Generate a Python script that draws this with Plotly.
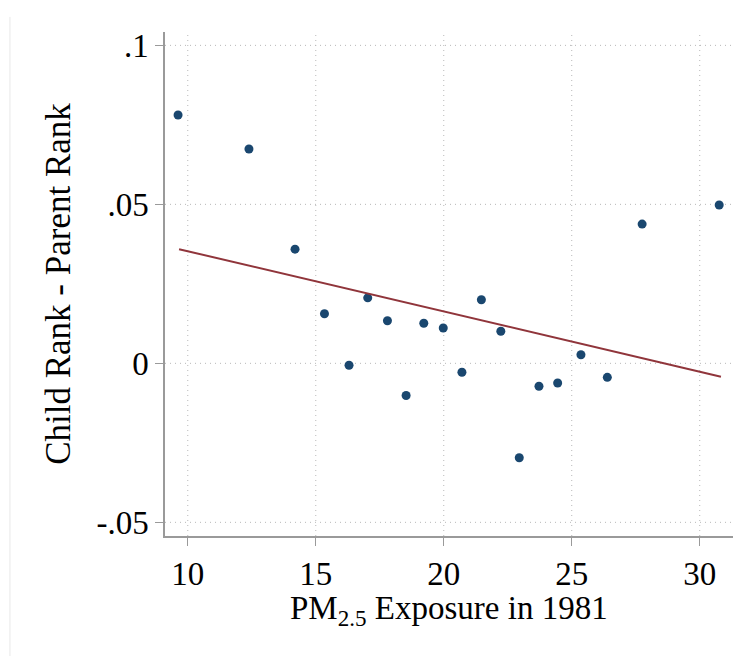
import plotly.graph_objects as go

# binned scatter: PM2.5 exposure vs. child - parent rank
pm25 = [9.62, 12.39, 14.19, 15.34, 16.30, 17.03, 17.80, 18.53, 19.22, 19.98,
        20.71, 21.47, 22.23, 22.95, 23.72, 24.45, 25.36, 26.39, 27.75, 30.76]
rank_gap = [0.0781, 0.0674, 0.0359, 0.0156, -0.0006, 0.0206, 0.0134, -0.0101, 0.0126, 0.0111,
            -0.0028, 0.0200, 0.0101, -0.0297, -0.0072, -0.0062, 0.0027, -0.0044, 0.0438, 0.0498]

# linear fit endpoints
fit_x = [9.66, 30.83]
fit_y = [0.0359, -0.0042]

x_ticks = [10, 15, 20, 25, 30]
y_ticks = [-0.05, 0, 0.05, 0.1]
y_tick_labels = ["-.05", "0", ".05", ".1"]

FONT = "Liberation Serif"
AXIS_GREY = "#9a9a9a"
GRID = "#b8b8b8"

fig = go.Figure()
fig.add_trace(go.Scatter(
    x=pm25, y=rank_gap, mode="markers",
    marker=dict(color="#1a476f", size=9, line=dict(width=0)),
    showlegend=False,
))
fig.add_trace(go.Scatter(
    x=fit_x, y=fit_y, mode="lines",
    line=dict(color="#90353b", width=2),
    showlegend=False,
))

# dotted gridlines
for xv in x_ticks:
    fig.add_shape(type="line", xref="x", yref="paper", x0=xv, x1=xv, y0=0, y1=1,
                  line=dict(color=GRID, width=1, dash="1px,4px"), layer="below")
for yv in y_ticks:
    fig.add_shape(type="line", xref="paper", yref="y", x0=0, x1=1, y0=yv, y1=yv,
                  line=dict(color=GRID, width=1, dash="1px,4px"), layer="below")

# faint frame line at the far left of the image
fig.add_shape(type="line", xref="paper", yref="paper", x0=-0.273, x1=-0.273, y0=-0.24, y1=1.03,
              line=dict(color="#e8e8e8", width=1))

fig.update_xaxes(
    range=[9.11, 31.3], tickvals=x_ticks, ticks="outside", ticklen=8, tickcolor=AXIS_GREY,
    showline=True, linecolor=AXIS_GREY, linewidth=1.5, showgrid=False, zeroline=False,
    tickfont=dict(family=FONT, size=33, color="black"),
)
fig.update_yaxes(
    range=[-0.0543, 0.1042], tickvals=y_ticks, ticktext=y_tick_labels, ticks="outside", ticklen=8,
    tickcolor=AXIS_GREY, showline=True, linecolor=AXIS_GREY, linewidth=1.5, showgrid=False,
    zeroline=False, tickfont=dict(family=FONT, size=33, color="black"),
    title=dict(text="Child Rank - Parent Rank", font=dict(family=FONT, size=35, color="black"),
               standoff=15),
)
# x title as annotation for exact placement
fig.add_annotation(
    text="PM<sub>2.5</sub> Exposure in 1981", xref="paper", yref="paper",
    x=0.5, y=-0.104, xanchor="center", yanchor="top", showarrow=False,
    font=dict(family=FONT, size=33, color="black"),
)
fig.update_layout(
    width=746, height=648,
    margin=dict(l=157, r=21, t=24, b=120),
    plot_bgcolor="white", paper_bgcolor="white",
)

fig.write_html("out.html")
